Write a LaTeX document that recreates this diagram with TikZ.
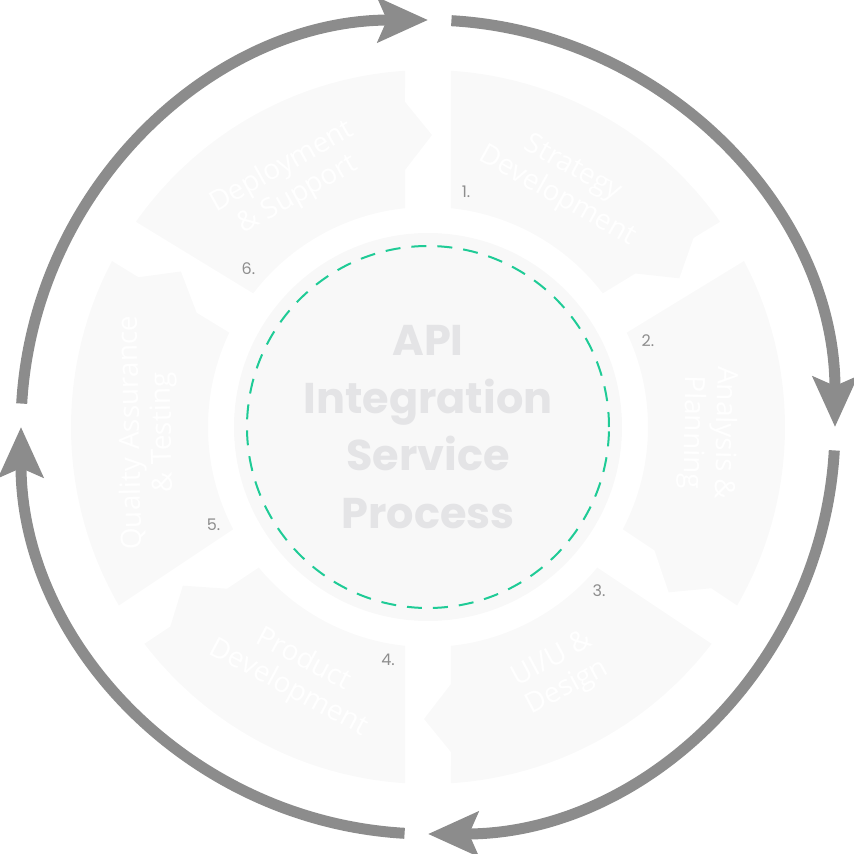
\documentclass[tikz,border=0pt]{standalone}
\usepackage{fontspec}
\setmainfont{Open Sans}
\newfontfamily\hubfont{Poppins}
\usetikzlibrary{arrows.meta}
\definecolor{segfill}{HTML}{F9F9F9}
\definecolor{hubfill}{HTML}{F8F8F8}
\definecolor{hubtext}{HTML}{E4E4E6}
\definecolor{ringgray}{HTML}{8C8C8C}
\definecolor{dashgreen}{HTML}{1FCB96}
\definecolor{numgray}{HTML}{8E8E8E}
\tikzset{
  phase fill/.style={
    fill=segfill,
  },
  phase label/.style={
    text=white,
    align=center,
    font=\fontsize{28}{32}\selectfont,
  },
  phase number/.style={
    text=numgray,
    font=\hubfont\fontsize{16}{19}\selectfont,
  },
  hub text/.style={
    text=hubtext,
    align=center,
    font=\hubfont\bfseries\fontsize{43}{57.5}\selectfont,
  },
  cycle arrow/.style={
    draw=ringgray,
    line width=11pt,
    -{Stealth[length=50pt, width=44pt, inset=9pt]},
  },
}

\begin{document}
\begin{tikzpicture}[x=1pt, y=1pt]
      \useasboundingbox (-428,-427) rectangle (426,427);

      % outer cycle
      \foreach \a in {180,90,0,-90}
        \draw[cycle arrow] ({\a-3.3}:407) arc[start angle={\a-3.3}, end angle={\a-90}, radius=407];

      % six phases, chevron at the clockwise end
      \foreach \bs/\be in {90/31.4, 31.4/-33.7, -33.7/-90, -90/-146.3, -146.3/-211.4, -211.4/-270}
        \fill[phase fill] ({\bs-3.69}:357) arc[start angle={\bs-3.69}, end angle={\be+3.69}, radius=357]
          -- ({\be+4.05}:326) -- ({\be-0.79}:292) -- ({\be+5.11}:258) -- ({\be+6.0}:220)
          arc[start angle={\be+6.0}, end angle={\bs-6.0}, radius=220] -- cycle;

      \node[phase label, rotate=-29.3] (strategy) at (60.7:280) {Strategy\\Development};
      \node[phase label, rotate=-91.15] (analysis) at (-1.15:280) {Analysis \&\\Planning};
      \node[phase label, rotate=28.15] (design) at (-61.85:280) {UI/U \&\\Design};
      \node[phase label, rotate=-28.15] (product) at (-118.15:280) {Product\\Development};
      \node[phase label, rotate=91.15] (quality) at (181.15:280) {Quality Assurance\\\& Testing};
      \node[phase label, rotate=29.3] (deploy) at (119.3:282) {Deployment\\\& Support};

      \node[phase number] (n1) at (38,235) {1.};
      \node[phase number] (n2) at (220,86) {2.};
      \node[phase number] (n3) at (171,-164) {3.};
      \node[phase number] (n4) at (-40,-233) {4.};
      \node[phase number] (n5) at (-214.5,-97.5) {5.};
      \node[phase number] (n6) at (-179.5,158) {6.};

      % hub
      \fill[hubfill] (0,0) circle[radius=194];
      \draw[dashgreen, line width=2pt, dash pattern=on 15pt off 11pt] (0,0) circle[radius=181];
      \node[hub text] (hub) at (0,0) {API\\Integration\\Service\\Process};
    \end{tikzpicture}
\end{document}
